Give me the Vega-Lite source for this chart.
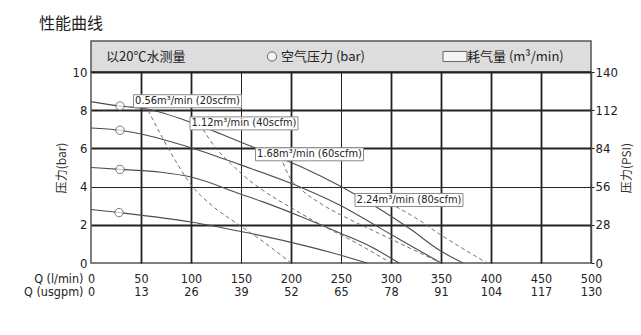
{
  "$schema": "https://vega.github.io/schema/vega-lite/v6.json",
  "background": "white",
  "padding": {"left": 22, "top": 16, "right": 5, "bottom": 5},
  "bounds": "flush",
  "spacing": 0,
  "title": {"text": "性能曲线", "anchor": "start", "frame": "group", "dx": -52, "offset": 8, "fontSize": 16, "font": "Noto Sans CJK SC", "fontWeight": "normal", "color": "#222"},
  "config": {
    "view": {"stroke": "#555", "strokeWidth": 1.5},
    "axis": {"labelFont": "Liberation Sans Narrow, DejaVu Sans Condensed, sans-serif", "labelFontSize": 13, "labelColor": "#222", "titleFont": "Noto Sans CJK SC", "titleFontWeight": "normal", "titleColor": "#333", "domain": false, "ticks": false, "labelOverlap": false}
  },
  "datasets": {
    "solid": [
      {"curve": "A", "q": 0, "p": 8.45}, {"curve": "A", "q": 29, "p": 8.22}, {"curve": "A", "q": 57, "p": 8.05}, {"curve": "A", "q": 99, "p": 7.38}, {"curve": "A", "q": 130, "p": 6.75}, {"curve": "A", "q": 162, "p": 6.07}, {"curve": "A", "q": 209, "p": 5.06}, {"curve": "A", "q": 250, "p": 4.0}, {"curve": "A", "q": 287, "p": 2.88}, {"curve": "A", "q": 320, "p": 1.75}, {"curve": "A", "q": 349, "p": 0.65}, {"curve": "A", "q": 372, "p": 0},
      {"curve": "B", "q": 0, "p": 7.07}, {"curve": "B", "q": 29, "p": 6.95}, {"curve": "B", "q": 50, "p": 6.75}, {"curve": "B", "q": 99, "p": 6.05}, {"curve": "B", "q": 149, "p": 5.15}, {"curve": "B", "q": 209, "p": 3.98}, {"curve": "B", "q": 250, "p": 3.0}, {"curve": "B", "q": 290, "p": 1.8}, {"curve": "B", "q": 325, "p": 0.75}, {"curve": "B", "q": 350, "p": 0},
      {"curve": "C", "q": 0, "p": 5.0}, {"curve": "C", "q": 29, "p": 4.9}, {"curve": "C", "q": 70, "p": 4.75}, {"curve": "C", "q": 100, "p": 4.5}, {"curve": "C", "q": 150, "p": 3.6}, {"curve": "C", "q": 172, "p": 3.2}, {"curve": "C", "q": 209, "p": 2.45}, {"curve": "C", "q": 250, "p": 1.55}, {"curve": "C", "q": 280, "p": 0.85}, {"curve": "C", "q": 308, "p": 0},
      {"curve": "D", "q": 0, "p": 2.8}, {"curve": "D", "q": 28, "p": 2.64}, {"curve": "D", "q": 100, "p": 2.15}, {"curve": "D", "q": 150, "p": 1.65}, {"curve": "D", "q": 200, "p": 1.08}, {"curve": "D", "q": 240, "p": 0.55}, {"curve": "D", "q": 276, "p": 0}
    ],
    "dashed": [
      {"flow": "0.56", "q": 57, "p": 8.0}, {"flow": "0.56", "q": 70, "p": 6.7}, {"flow": "0.56", "q": 85, "p": 5.3}, {"flow": "0.56", "q": 100, "p": 4.1}, {"flow": "0.56", "q": 120, "p": 3.05}, {"flow": "0.56", "q": 145, "p": 2.1}, {"flow": "0.56", "q": 170, "p": 1.2}, {"flow": "0.56", "q": 200, "p": 0},
      {"flow": "1.12", "q": 112, "p": 7.0}, {"flow": "1.12", "q": 125, "p": 6.0}, {"flow": "1.12", "q": 140, "p": 5.2}, {"flow": "1.12", "q": 152, "p": 4.6}, {"flow": "1.12", "q": 172, "p": 3.8}, {"flow": "1.12", "q": 200, "p": 2.9}, {"flow": "1.12", "q": 230, "p": 2.0}, {"flow": "1.12", "q": 260, "p": 1.2}, {"flow": "1.12", "q": 300, "p": 0},
      {"flow": "1.68", "q": 192, "p": 5.25}, {"flow": "1.68", "q": 199, "p": 4.45}, {"flow": "1.68", "q": 210, "p": 3.85}, {"flow": "1.68", "q": 230, "p": 3.1}, {"flow": "1.68", "q": 260, "p": 2.25}, {"flow": "1.68", "q": 290, "p": 1.5}, {"flow": "1.68", "q": 320, "p": 0.75}, {"flow": "1.68", "q": 350, "p": 0},
      {"flow": "2.24", "q": 305, "p": 2.95}, {"flow": "2.24", "q": 325, "p": 2.35}, {"flow": "2.24", "q": 349, "p": 1.5}, {"flow": "2.24", "q": 372, "p": 0.75}, {"flow": "2.24", "q": 396, "p": 0}
    ],
    "circles": [
      {"q": 29, "p": 8.22}, {"q": 29, "p": 6.95}, {"q": 29, "p": 4.9}, {"q": 28, "p": 2.64}
    ],
    "labels": [
      {"q": 96.5, "p": 8.47, "t": "0.56m³/min (20scfm)"},
      {"q": 153, "p": 7.31, "t": "1.12m³/min (40scfm)"},
      {"q": 218.5, "p": 5.69, "t": "1.68m³/min (60scfm)"},
      {"q": 318, "p": 3.3, "t": "2.24m³/min (80scfm)"}
    ],
    "header": [
      {"q": 15, "t": "以20℃水测量", "kind": "text"},
      {"q": 190, "t": "空气压力 (bar)", "kind": "text"},
      {"q": 376, "t": "耗气量 (m³/min)", "kind": "text"},
      {"q": 181, "t": "", "kind": "circle"},
      {"q": 364, "t": "", "kind": "rect"}
    ]
  },
  "vconcat": [
    {
      "width": 500,
      "height": 31,
      "view": {"fill": "#dddddd", "stroke": "#555", "strokeWidth": 1.5},
      "data": {"name": "header"},
      "layer": [
        {
          "transform": [{"filter": "datum.kind == 'text'"}],
          "mark": {"type": "text", "align": "left", "baseline": "middle", "fontSize": 13, "font": "Noto Sans CJK SC", "color": "#222"},
          "encoding": {
            "x": {"field": "q", "type": "quantitative", "scale": {"domain": [0, 500]}, "axis": null},
            "text": {"field": "t"}
          }
        },
        {
          "transform": [{"filter": "datum.kind == 'circle'"}],
          "mark": {"type": "point", "shape": "circle", "size": 85, "filled": true, "fill": "white", "stroke": "#333", "strokeWidth": 1},
          "encoding": {"x": {"field": "q", "type": "quantitative"}}
        },
        {
          "transform": [{"filter": "datum.kind == 'rect'"}],
          "mark": {"type": "point", "shape": "M-1,-0.42H1V0.42H-1Z", "size": 576, "filled": true, "fill": "white", "stroke": "#333", "strokeWidth": 1},
          "encoding": {"x": {"field": "q", "type": "quantitative"}}
        }
      ]
    },
    {
      "width": 500,
      "height": 191,
      "resolve": {"scale": {"y": "independent"}, "axis": {"y": "independent"}},
      "layer": [
        {
          "layer": [
            {
              "data": {"name": "solid"},
              "mark": {"type": "line", "interpolate": "monotone", "color": "#4d4d4d", "strokeWidth": 1.1},
              "encoding": {
                "x": {"field": "q", "type": "quantitative", "scale": {"domain": [0, 500]},
                  "axis": {"values": [0, 50, 100, 150, 200, 250, 300, 350, 400, 450, 500], "labelExpr": "[datum.label, format(datum.value*0.26,'d')]", "labelLineHeight": 13.5, "labelFontSize": 12.5, "labelPadding": 9, "labelFlush": false, "labelOverlap": false,
                    "grid": true, "gridColor": "#222", "gridWidth": {"condition": {"test": "datum.value == 150 || datum.value == 250", "value": 1}, "value": 1.8}, "gridOpacity": {"condition": {"test": "datum.value == 0 || datum.value == 500", "value": 0}, "value": 1},
                    "title": ["Q (l/min)", "Q (usgpm)"], "titleFont": "Liberation Sans Narrow, DejaVu Sans Condensed, sans-serif", "titleFontSize": 12.5, "titleColor": "#222", "titleAlign": "right", "titleBaseline": "top", "titleAngle": 0, "titleX": -8, "titleY": 9, "titleLineHeight": 13.5}},
                "y": {"field": "p", "type": "quantitative", "scale": {"domain": [0, 10]},
                  "axis": {"values": [0, 2, 4, 6, 8, 10], "tickCount": 6, "labelOverlap": false, "labelPadding": 4, "grid": true, "gridColor": "#222", "gridWidth": {"condition": {"test": "datum.value == 4", "value": 1}, "value": 1.8}, "gridOpacity": {"condition": {"test": "datum.value == 0", "value": 0}, "value": 1},
                    "title": "压力(bar)", "titleFontSize": 12, "titlePadding": 4}},
                "detail": {"field": "curve"}
              }
            },
            {
              "data": {"name": "dashed"},
              "mark": {"type": "line", "interpolate": "monotone", "color": "#707070", "strokeWidth": 1, "strokeDash": [4, 3]},
              "encoding": {
                "x": {"field": "q", "type": "quantitative"},
                "y": {"field": "p", "type": "quantitative"},
                "detail": {"field": "flow"}
              }
            },
            {
              "data": {"name": "circles"},
              "mark": {"type": "point", "shape": "circle", "size": 70, "filled": true, "fill": "white", "stroke": "#444", "strokeWidth": 1},
              "encoding": {
                "x": {"field": "q", "type": "quantitative"},
                "y": {"field": "p", "type": "quantitative"}
              }
            },
            {
              "data": {"name": "labels"},
              "mark": {"type": "rect", "width": 108, "height": 13, "fill": "white", "stroke": "#8a8a8a", "strokeWidth": 1},
              "encoding": {
                "x": {"field": "q", "type": "quantitative"},
                "y": {"field": "p", "type": "quantitative"}
              }
            },
            {
              "data": {"name": "labels"},
              "mark": {"type": "text", "align": "center", "baseline": "middle", "fontSize": 11, "font": "Liberation Sans Narrow, DejaVu Sans Condensed, sans-serif", "color": "#222"},
              "encoding": {
                "x": {"field": "q", "type": "quantitative"},
                "y": {"field": "p", "type": "quantitative"},
                "text": {"field": "t"}
              }
            }
          ]
        },
        {
          "data": {"name": "circles"},
          "mark": {"type": "point", "opacity": 0},
          "encoding": {
            "x": {"field": "q", "type": "quantitative"},
            "y": {"field": "p", "type": "quantitative", "scale": {"domain": [0, 10]},
              "axis": {"orient": "right", "values": [0, 2, 4, 6, 8, 10], "labelExpr": "format(datum.value*14,'d')", "grid": false, "domain": true, "domainColor": "#444", "domainWidth": 1.5, "ticks": true, "tickSize": 3, "tickColor": "#222", "labelPadding": 1,
                "title": "压力(PSI)", "titleAngle": 270, "titleBaseline": "top", "titleFontSize": 12, "titlePadding": 4}}
          }
        }
      ]
    }
  ]
}
